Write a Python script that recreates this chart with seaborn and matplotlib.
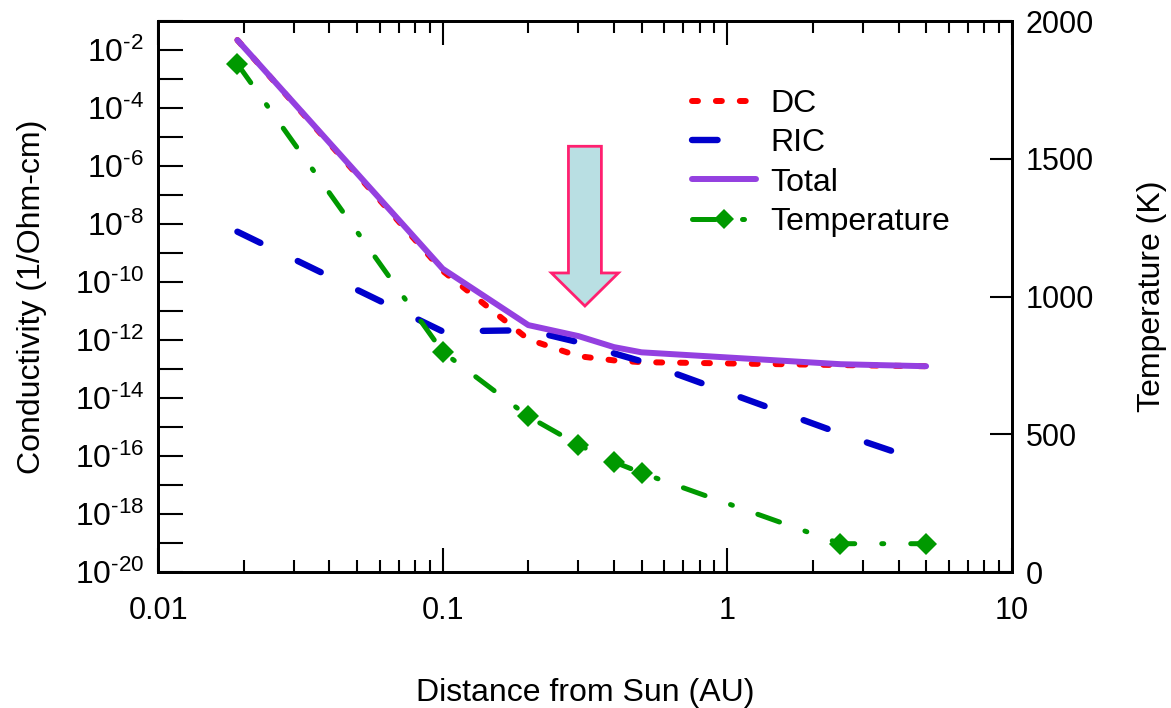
import numpy as np
import pandas as pd
import matplotlib
matplotlib.use("Agg")
import matplotlib.pyplot as plt
import matplotlib.ticker as mticker
from matplotlib.patches import FancyArrow
import seaborn as sns

# ---- data ----
distance = [0.019, 0.1, 0.2, 0.3, 0.4, 0.5, 2.5, 5.0]
dc = [2.24e-2, 2.45e-10, 1.07e-12, 2.8e-13, 2.0e-13, 1.74e-13, 1.38e-13, 1.26e-13]
ric = [5.5e-9, 2.0e-12, 2.2e-12, 8.5e-13, 3.5e-13, 1.86e-13, 6.0e-16, 6.0e-17]
total = [2.24e-2, 2.9e-10, 3.3e-12, 1.38e-12, 5.75e-13, 3.8e-13, 1.48e-13, 1.26e-13]
temperature = [1845, 800, 565, 462, 400, 360, 103, 103]

series_labels = ["DC", "RIC", "Total", "Temperature"]
x_ticks = [0.01, 0.1, 1, 10]
x_tick_labels = ["0.01", "0.1", "1", "10"]
temp_ticks = [0, 500, 1000, 1500, 2000]

sns.set_style("ticks")
plt.rcParams["font.family"] = ["Liberation Sans", "DejaVu Sans"]
plt.rcParams["mathtext.fontset"] = "custom"
plt.rcParams["mathtext.rm"] = "Liberation Sans"
plt.rcParams["mathtext.it"] = "Liberation Sans:italic"
plt.rcParams["mathtext.bf"] = "Liberation Sans:bold"
for k in ["text.color", "axes.labelcolor", "xtick.color", "ytick.color", "axes.edgecolor"]:
    plt.rcParams[k] = "black"

FS = 22
FSL = 23
fig = plt.figure(figsize=(11.71, 7.08), dpi=100)
ax = fig.add_axes([0.135, 0.192, 0.729, 0.778])
ax2 = ax.twinx()

df = pd.DataFrame({"distance": distance, "dc": dc, "ric": ric,
                   "total": total, "temperature": temperature})

sns.lineplot(data=df, x="distance", y="dc", ax=ax, color="#ff0000", lw=4.3,
             linestyle=(0, (1, 3)), dash_capstyle="round", label=series_labels[0])
sns.lineplot(data=df, x="distance", y="ric", ax=ax, color="#0000cc", lw=4.6,
             linestyle=(0, (4, 6.5)), dash_capstyle="round", label=series_labels[1])
sns.lineplot(data=df, x="distance", y="total", ax=ax, color="#9440e0", lw=4.3,
             solid_capstyle="round", solid_joinstyle="round", label=series_labels[2])
sns.lineplot(data=df, x="distance", y="temperature", ax=ax2, color="#009900", lw=3.6,
             linestyle=(0, (4.6, 5.4, 0.4, 5.4)), dash_capstyle="round",
             marker="D", markersize=11.5, markeredgewidth=0, label=series_labels[3])

ax.set_xscale("log")
ax.set_yscale("log")
ax.set_xlim(0.01, 10)
ax.set_ylim(1e-20, 1e-1)
ax2.set_ylim(0, 2000)


def sci_fmt(v, pos):
    e = int(round(np.log10(v)))
    if e < 0:
        return r"$\mathdefault{10^{\text{-}%d}}$" % (-e)
    return r"$\mathdefault{10^{%d}}$" % e


ax.xaxis.set_major_locator(mticker.FixedLocator(x_ticks))
ax.xaxis.set_major_formatter(mticker.FixedFormatter(x_tick_labels))
ax.xaxis.set_minor_locator(mticker.LogLocator(base=10, subs=np.arange(2, 10), numticks=20))
ax.xaxis.set_minor_formatter(mticker.NullFormatter())
ax.yaxis.set_major_locator(mticker.LogLocator(base=100, numticks=30))
ax.yaxis.set_major_formatter(mticker.FuncFormatter(sci_fmt))
ax.yaxis.set_minor_locator(mticker.LogLocator(base=10, subs=(1.0,), numticks=40))
ax.yaxis.set_minor_formatter(mticker.NullFormatter())
ax2.yaxis.set_major_locator(mticker.FixedLocator(temp_ticks))
ax2.yaxis.set_minor_locator(mticker.NullLocator())

ax.tick_params(axis="x", which="major", direction="in", length=17, width=1.5,
               top=True, bottom=True, labelsize=FS, pad=17)
ax.tick_params(axis="x", which="minor", direction="in", length=8.6, width=1.5,
               top=True, bottom=True)
ax.tick_params(axis="y", which="both", direction="in", length=18, width=1.5,
               left=True, right=False, labelsize=23, pad=10)
ax2.tick_params(axis="y", which="major", direction="in", length=16, width=1.5,
                labelsize=FS, pad=10)

for a in (ax, ax2):
    for s in a.spines.values():
        s.set_linewidth(2)
        s.set_color("black")

ax.set_xlabel("Distance from Sun (AU)", fontsize=FSL, labelpad=38)
ax.set_ylabel("Conductivity (1/Ohm-cm)", fontsize=FSL, labelpad=20)
ax2.set_ylabel("Temperature (K)", fontsize=FSL, labelpad=31)

# arrow annotation
arrow = FancyArrow(0.5, 0.773, 0, -0.29, width=0.0386, head_width=0.0785,
                   head_length=0.06, length_includes_head=True,
                   transform=ax.transAxes, facecolor="#b9dfe3",
                   edgecolor="#ff2070", lw=2, zorder=5)
ax.add_patch(arrow)

# legend
if ax.get_legend():
    ax.get_legend().remove()
if ax2.get_legend():
    ax2.get_legend().remove()
h1, l1 = ax.get_legend_handles_labels()
h2, l2 = ax2.get_legend_handles_labels()
ax2.legend(h1 + h2, l1 + l2, loc="upper left", bbox_to_anchor=(0.626, 0.877),
           frameon=False, fontsize=FSL, handlelength=2.0, handletextpad=0.45,
           labelspacing=0.29, borderpad=0, borderaxespad=0, markerscale=0.9)

fig.savefig("out.png", dpi=100)
